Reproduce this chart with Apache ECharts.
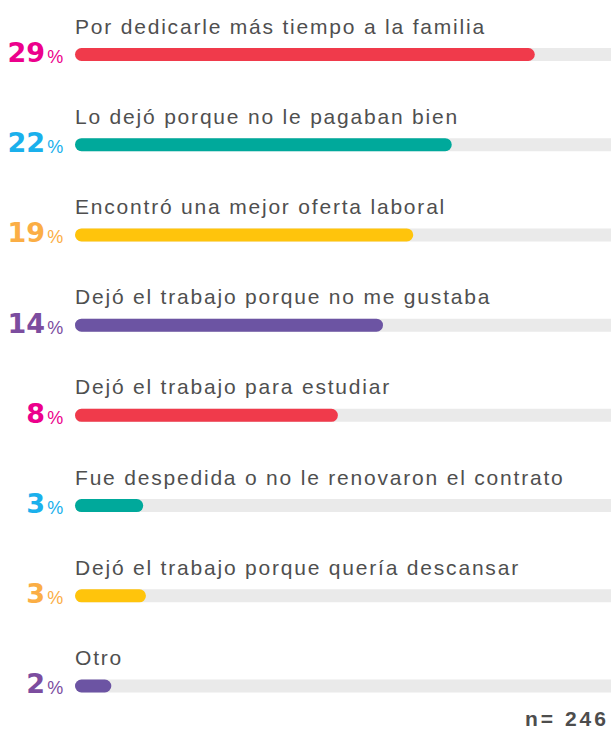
<!DOCTYPE html>
<html>
<head>
<meta charset="utf-8">
<script src="https://cdn.jsdelivr.net/npm/echarts@6/dist/echarts.min.js"></script>
<style>
html, body { margin: 0; padding: 0; background: #ffffff; }
#chart { width: 611px; height: 731px; }
#chart text { letter-spacing: 1.8px; }
</style>
</head>
<body>
<div id="chart"></div>
<script>
// Categories (top to bottom)
const categories = [
  'Por dedicarle más tiempo a la familia',
  'Lo dejó porque no le pagaban bien',
  'Encontró una mejor oferta laboral',
  'Dejó el trabajo porque no me gustaba',
  'Dejó el trabajo para estudiar',
  'Fue despedida o no le renovaron el contrato',
  'Dejó el trabajo porque quería descansar',
  'Otro'
];
// Percent values shown as labels
const percents = [29, 22, 19, 14, 8, 3, 3, 2];
// Visual bar lengths as drawn in the picture (0-100 track scale)
const barLengths = [83.6, 68.5, 61.5, 56, 47.8, 12.4, 12.9, 6.6];
const trackMax = 100;
const barColors = ['#F03A4B', '#00A99B', '#FFC40C', '#6C54A3', '#F03A4B', '#00A99B', '#FFC40C', '#6C54A3'];
const numberColors = ['#EC008C', '#1AB0EC', '#FBAE45', '#7C4D9F', '#EC008C', '#1AB0EC', '#FBAE45', '#7C4D9F'];
const sampleLabel = 'n= 246';

const chart = echarts.init(document.getElementById('chart'), null, { renderer: 'svg' });

const option = {
  animation: false,
  backgroundColor: '#ffffff',
  grid: { left: 75, right: -14, top: 9.4, height: 721.7, outerBoundsMode: 'none', containLabel: false },
  xAxis: { type: 'value', min: 0, max: trackMax, show: false },
  yAxis: { type: 'category', data: categories, inverse: true, show: false },
  graphic: [{
    type: 'text',
    left: 525,
    top: 708,
    style: {
      text: sampleLabel,
      fill: '#4D4D4D',
      font: 'bold 21px "Liberation Sans", Arial, sans-serif'
    }
  }],
  series: [
    {
      type: 'bar',
      silent: true,
      barWidth: 13,
      z: 1,
      data: categories.map(() => trackMax),
      itemStyle: { color: '#EAEAEA', borderRadius: 6.5 },
      label: {
        show: true,
        position: [0, -22],
        align: 'left',
        verticalAlign: 'middle',
        formatter: (p) => categories[p.dataIndex],
        color: '#4F4F4F',
        fontFamily: '"Liberation Sans", Arial, sans-serif',
        fontSize: 21
      }
    },
    {
      type: 'bar',
      silent: true,
      barWidth: 13,
      barGap: '-100%',
      z: 2,
      data: barLengths.map((v, i) => ({
        value: v,
        itemStyle: { color: barColors[i], borderRadius: 6.5 },
        label: {
          rich: {
            n: { color: numberColors[i], fontSize: 27, fontWeight: 'bold', fontFamily: '"DejaVu Sans", sans-serif' },
            p: { color: numberColors[i], fontSize: 18, fontFamily: '"Liberation Sans", Arial, sans-serif', verticalAlign: 'bottom', padding: [0, 0, 0, 4] }
          }
        }
      })),
      label: {
        show: true,
        position: 'left',
        distance: 10,
        offset: [0, -2],
        formatter: (p) => '{n|' + percents[p.dataIndex] + '}{p|%}'
      }
    }
  ]
};
chart.setOption(option);

function tuneSpacing() {
  const texts = document.querySelectorAll('#chart text');
  texts.forEach((t) => {
    const s = t.textContent;
    if (s === sampleLabel) t.style.letterSpacing = '3px';
    else if (/^\d+$/.test(s)) t.style.letterSpacing = '0px';
  });
}
chart.getZr().refreshImmediately();
tuneSpacing();
chart.on('finished', tuneSpacing);
</script>
</body>
</html>
